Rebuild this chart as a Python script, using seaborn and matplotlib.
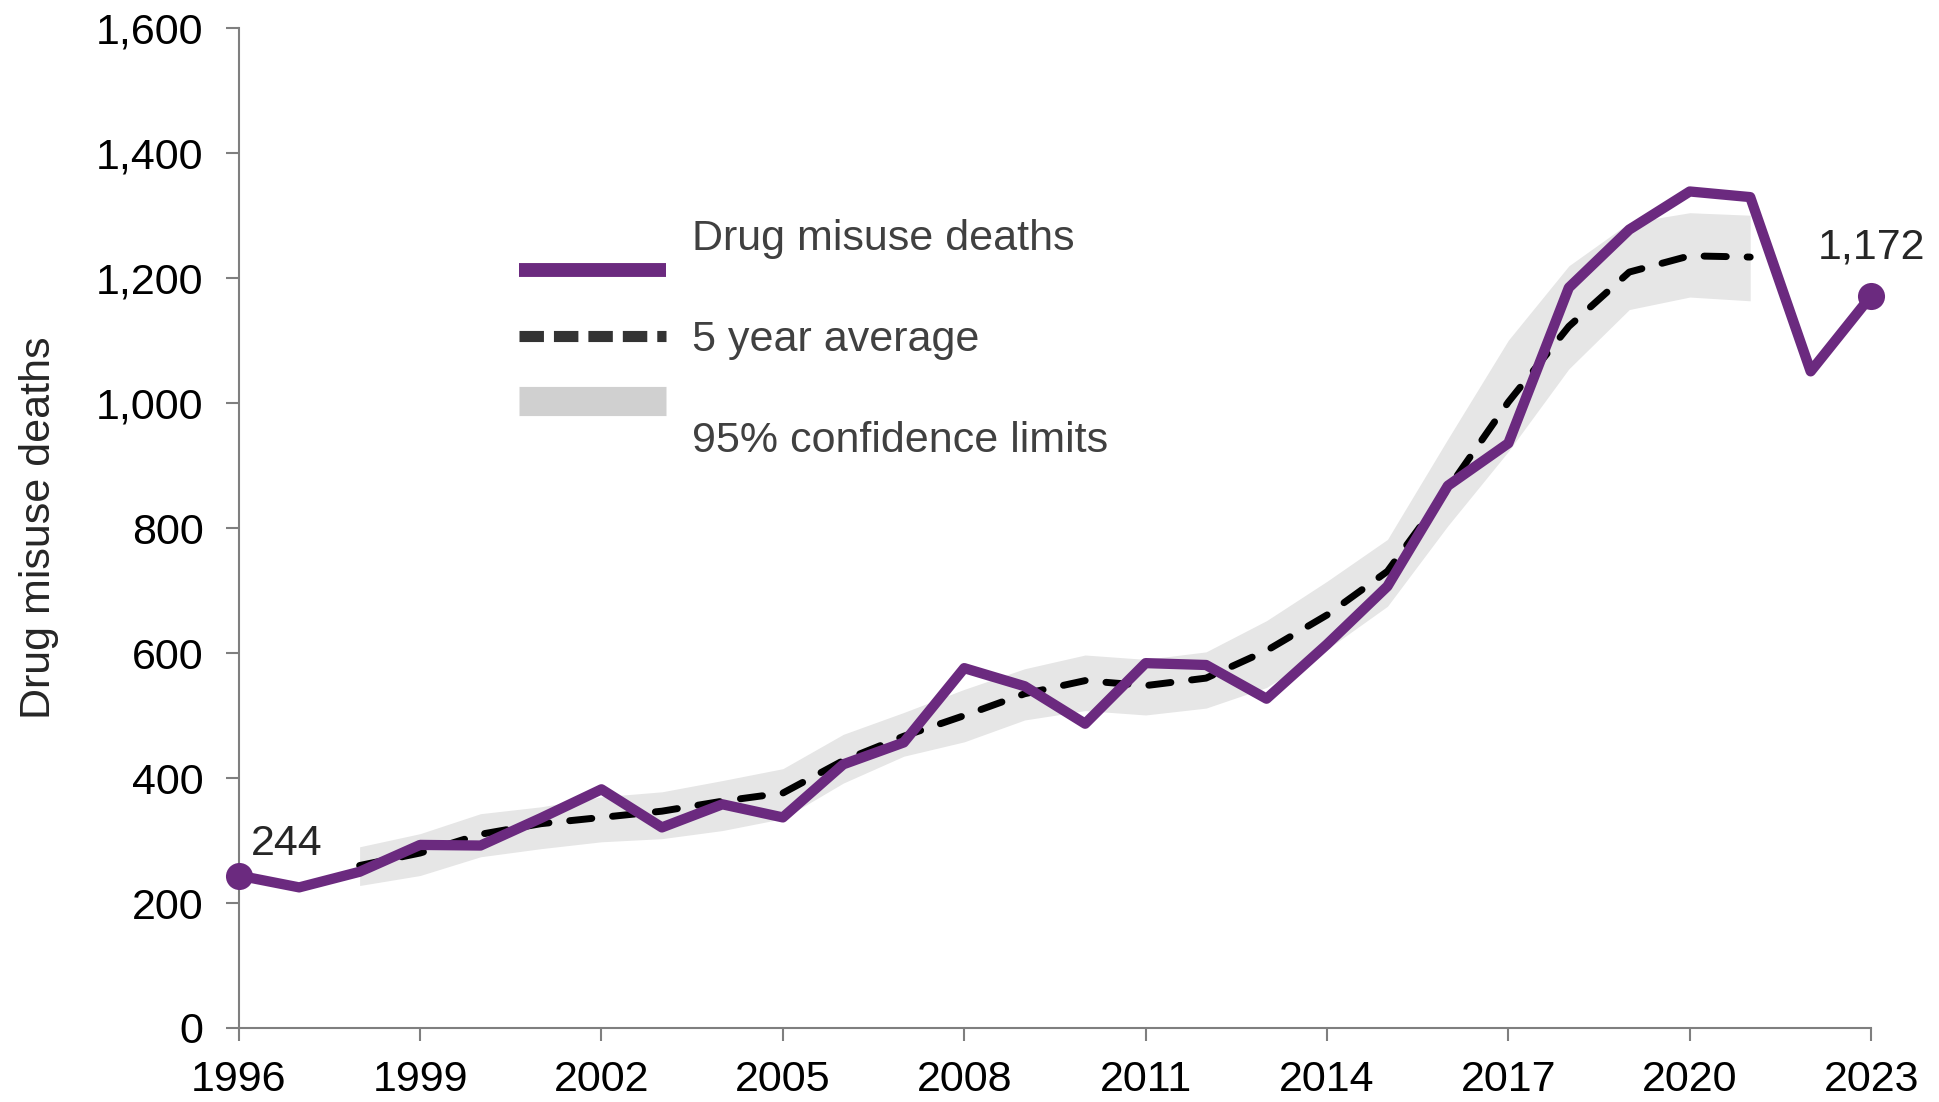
import matplotlib
matplotlib.use("Agg")
import matplotlib.pyplot as plt
import seaborn as sns
from matplotlib.lines import Line2D
from matplotlib.transforms import Affine2D
from matplotlib.ticker import FuncFormatter, MultipleLocator

# data
years = list(range(1996, 2024))
deaths = [244, 225, 250, 293, 292, 336, 382, 321, 358, 337, 422, 457, 576, 547,
          487, 584, 581, 527, 614, 707, 868, 936, 1185, 1278, 1339, 1330, 1051, 1172]

avg_years = list(range(1998, 2022))
avg_5yr = [260, 280, 310, 327, 337, 347, 363, 376, 428, 467, 500, 535,
           556, 548, 560, 604, 661, 731, 863, 1002, 1123, 1210, 1236, 1234]
ci_lower = [228, 244, 274, 287, 298, 303, 316, 335, 392, 435, 458, 493,
            508, 501, 512, 545, 606, 675, 804, 923, 1055, 1150, 1170, 1164]
ci_upper = [290, 311, 343, 354, 370, 378, 396, 415, 470, 505, 542, 575,
            597, 590, 602, 652, 715, 782, 943, 1101, 1220, 1289, 1305, 1301]

x_ticks = list(range(1996, 2024, 3))

purple = '#6B2A7F'
band_grey = '#E6E6E6'
axis_grey = '#7F7F7F'

sns.set_style('ticks')
plt.rcParams['font.family'] = ['Liberation Sans', 'DejaVu Sans']

fig, ax = plt.subplots(figsize=(19.39, 11.02), dpi=100)
fig.subplots_adjust(left=0.1231, right=0.965, bottom=0.0672, top=0.9742)

# confidence band
ax.fill_between(avg_years, ci_lower, ci_upper, color=band_grey, lw=0, zorder=1)

# 5 year average
sns.lineplot(x=avg_years, y=avg_5yr, ax=ax, color='black', lw=5,
             linestyle=(0, (3.2, 3.0)), dash_capstyle='round', zorder=3)

# deaths
sns.lineplot(x=years, y=deaths, ax=ax, color=purple, lw=7.4, zorder=4)
sns.scatterplot(x=[years[0], years[-1]], y=[deaths[0], deaths[-1]], ax=ax,
                s=380, color=purple, linewidth=0, zorder=5, clip_on=False)

ax.annotate(f'{deaths[0]:,}', (years[0], deaths[0]), xytext=(9, 23),
            textcoords='offset points', fontsize=31, ha='left', va='center')
ax.annotate(f'{deaths[-1]:,}', (years[-1], deaths[-1]), xytext=(0, 35),
            textcoords='offset points', fontsize=31, ha='center', va='center')

# axes
ax.set_xlim(1996, 2023)
ax.set_ylim(0, 1600)
ax.set_xticks(x_ticks)
ax.yaxis.set_major_locator(MultipleLocator(200))
ax.yaxis.set_major_formatter(FuncFormatter(lambda v, p: f'{int(v):,}'))
ax.set_xlabel('')
ax.set_ylabel('Drug misuse deaths', fontsize=31)
ax.yaxis.set_label_coords(-0.11, 0.5)

sns.despine(ax=ax)
for side in ['left', 'bottom']:
    ax.spines[side].set_color(axis_grey)
    ax.spines[side].set_linewidth(1.5)
ax.tick_params(direction='out', length=9.4, width=1.5, color=axis_grey,
               labelsize=31, labelcolor='black')
ax.tick_params(axis='y', pad=16)
ax.tick_params(axis='x', pad=14)

# legend - labels of first and last entry sit above / below their keys
handles = [
    Line2D([], [], color=purple, lw=10, solid_capstyle='butt'),
    Line2D([], [], color='#333333', lw=8, linestyle=(0, (2.2, 0.9)),
           dash_capstyle='butt'),
    Line2D([], [], color='#D0D0D0', lw=21, solid_capstyle='butt'),
]
labels = ['Drug misuse deaths', '5 year average', '95% confidence limits']
leg = ax.legend(handles, labels, loc='upper left', bbox_to_anchor=(0.172, 0.774),
                frameon=False, fontsize=31, handlelength=3.4, handletextpad=0.6,
                labelspacing=0.59, borderpad=0, borderaxespad=0,
                labelcolor='#404040')
texts = leg.get_texts()
for t, dy in zip(texts, [35, 0, -36]):
    t.set_transform(t.get_transform() + Affine2D().translate(0, dy))

fig.savefig('out.png', dpi=100)
